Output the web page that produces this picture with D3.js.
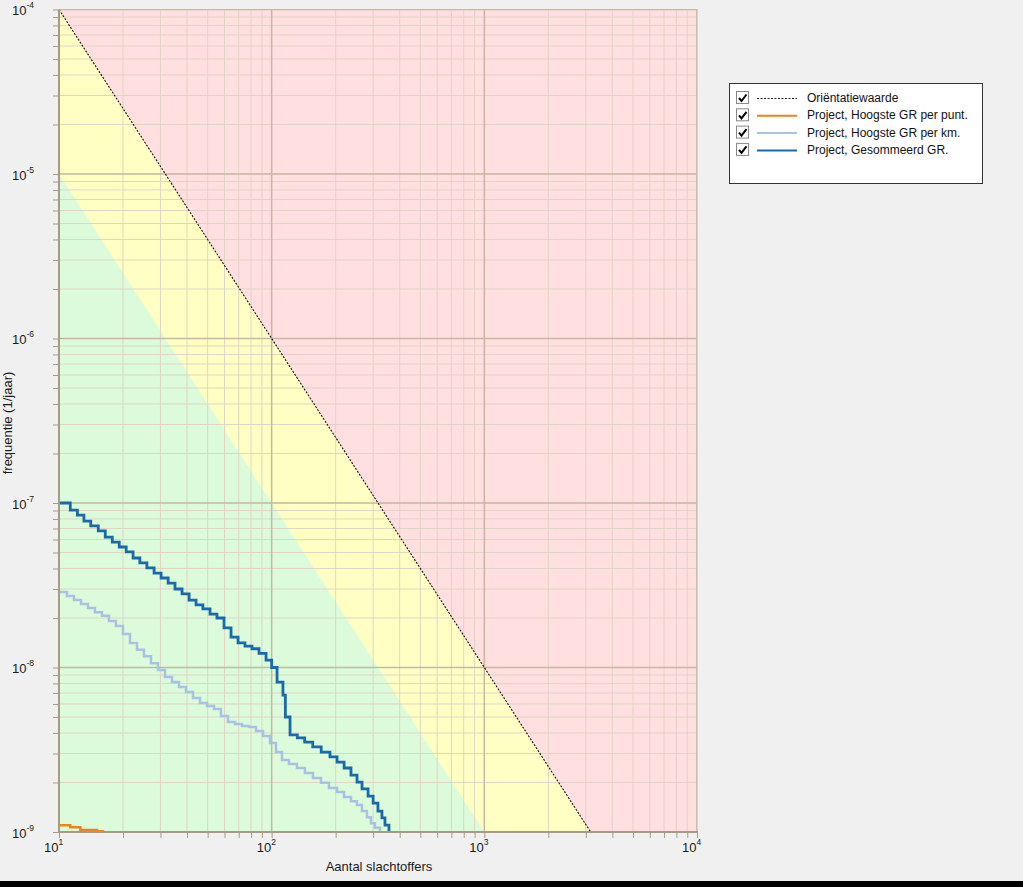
<!DOCTYPE html>
<html>
<head>
<meta charset="utf-8">
<script src="https://cdn.jsdelivr.net/npm/d3@7"></script>
<style>
html,body{margin:0;padding:0;background:#f0f0f0;}
svg{display:block;font-family:"Liberation Sans",Arial,sans-serif;}
</style>
</head>
<body>
<svg id="chart" width="1023" height="887"></svg>
<script>
// ---- data ----
const xDecades = [10, 100, 1000, 10000];
const xExponents = ["1", "2", "3", "4"];
const yDecades = [1e-4, 1e-5, 1e-6, 1e-7, 1e-8, 1e-9];
const yExponents = ["-4", "-5", "-6", "-7", "-8", "-9"];

// Orientatiewaarde (F = 0.01 / N^2)
const orientN = [10, 3162.3];
const orientF = [1e-4, 1e-9];
// lower limit of yellow band (F = 0.001 / N^2)
const lowerN = [10, 1000];
const lowerF = [1e-5, 1e-9];

// Project, Gesommeerd GR.
const sumN = [10, 11.3, 12.2, 13.1, 14.1, 15.3, 16.5, 17.8, 19.2, 20.7, 22.3, 24.0, 25.9, 28.0, 30.2, 32.6, 35.1, 37.9, 40.9, 44.1, 47.5, 51.3, 55.3, 59.7, 64.4, 69.5, 74.9, 80.8, 87.2, 94.1, 100, 106, 113, 116, 122, 132, 143, 156, 171, 188, 203, 219, 236, 252, 266, 284, 300, 316, 330, 341, 356];
const sumF = [1.0e-7, 9.06e-8, 8.45e-8, 7.77e-8, 7.25e-8, 6.76e-8, 6.21e-8, 5.79e-8, 5.40e-8, 5.04e-8, 4.63e-8, 4.32e-8, 4.03e-8, 3.75e-8, 3.50e-8, 3.26e-8, 3.00e-8, 2.80e-8, 2.57e-8, 2.40e-8, 2.27e-8, 2.11e-8, 2.00e-8, 1.74e-8, 1.53e-8, 1.41e-8, 1.35e-8, 1.30e-8, 1.22e-8, 1.11e-8, 1.0e-8, 8.16e-9, 6.80e-9, 5.00e-9, 3.89e-9, 3.73e-9, 3.52e-9, 3.29e-9, 3.06e-9, 2.86e-9, 2.66e-9, 2.45e-9, 2.22e-9, 2.01e-9, 1.83e-9, 1.65e-9, 1.50e-9, 1.34e-9, 1.22e-9, 1.10e-9, 1.0e-9];

// Project, Hoogste GR per km.
const kmN = [10, 10.9, 11.76, 12.69, 13.69, 14.76, 15.93, 17.18, 18.53, 20.0, 21.57, 23.27, 25.1, 27.07, 29.21, 31.51, 33.99, 36.66, 39.55, 42.66, 46.02, 49.64, 53.56, 57.77, 62.32, 67.24, 72.53, 78.24, 84.41, 91.06, 98.2, 104.8, 111.8, 120.6, 131.5, 143.4, 156.4, 170.6, 186.0, 202.8, 218.8, 236.0, 251.8, 265.8, 280.6, 293.1, 306.0, 323.0];
const kmF = [2.88e-8, 2.72e-8, 2.57e-8, 2.43e-8, 2.30e-8, 2.17e-8, 2.06e-8, 1.92e-8, 1.79e-8, 1.60e-8, 1.41e-8, 1.28e-8, 1.17e-8, 1.06e-8, 9.66e-9, 8.75e-9, 8.16e-9, 7.61e-9, 7.10e-9, 6.53e-9, 6.08e-9, 5.83e-9, 5.59e-9, 5.07e-9, 4.66e-9, 4.53e-9, 4.41e-9, 4.35e-9, 4.11e-9, 3.83e-9, 3.48e-9, 3.06e-9, 2.74e-9, 2.59e-9, 2.45e-9, 2.28e-9, 2.13e-9, 1.99e-9, 1.85e-9, 1.75e-9, 1.63e-9, 1.54e-9, 1.46e-9, 1.34e-9, 1.23e-9, 1.13e-9, 1.06e-9, 1.0e-9];

// Project, Hoogste GR per punt.
const puntN = [10, 11.3, 12.6, 15.1, 16.1];
const puntF = [1.1e-9, 1.07e-9, 1.03e-9, 1.01e-9, 1.0e-9];

const legendLabels = ["Oriëntatiewaarde", "Project, Hoogste GR per punt.", "Project, Hoogste GR per km.", "Project, Gesommeerd GR."];

// ---- drawing ----
const svg = d3.select("#chart");
const x = d3.scaleLog().domain([10, 10000]).range([59, 697]);
const y = d3.scaleLog().domain([1e-9, 1e-4]).range([832, 9.5]);

const C = {
  red: "#ffdfe0", yellow: "#ffffc4", green: "#dbfbdb",
  major: "#c6b6a2", minor: "#e0d5c4", axis: "#a89a86",
  dark: "#1a69a8", light: "#a9c1e3", orange: "#f0821e"
};

const plot = svg.append("g");
plot.append("defs").append("clipPath").attr("id", "clip")
  .append("rect").attr("x", x(10)).attr("y", y(1e-4))
  .attr("width", x(10000) - x(10)).attr("height", y(1e-9) - y(1e-4));

const area = plot.append("g").attr("clip-path", "url(#clip)");
area.append("rect").attr("x", x(10)).attr("y", y(1e-4))
  .attr("width", x(10000) - x(10)).attr("height", y(1e-9) - y(1e-4)).attr("fill", C.red);
const poly = (ns, fs) => {
  const pts = ns.map((n, i) => [x(n), y(fs[i])]);
  pts.push([x(ns[0]), y(1e-9)]);
  return pts.map(p => p.join(",")).join(" ");
};
area.append("polygon").attr("points", poly(orientN, orientF)).attr("fill", C.yellow);
area.append("polygon").attr("points", poly(lowerN, lowerF)).attr("fill", C.green);

// grid
const minorX = [], minorY = [];
xDecades.slice(0, -1).forEach(d => { for (let k = 2; k <= 9; k++) minorX.push(d * k); });
yDecades.slice(1).forEach(d => { for (let k = 2; k <= 9; k++) minorY.push(d * k); });

area.selectAll(".gxm").data(minorX).enter().append("line")
  .attr("x1", d => x(d)).attr("x2", d => x(d)).attr("y1", y(1e-4)).attr("y2", y(1e-9))
  .attr("stroke", C.minor).attr("stroke-width", 1);
area.selectAll(".gym").data(minorY).enter().append("line")
  .attr("y1", d => y(d)).attr("y2", d => y(d)).attr("x1", x(10)).attr("x2", x(10000))
  .attr("stroke", C.minor).attr("stroke-width", 1);
area.selectAll(".gxM").data(xDecades).enter().append("line")
  .attr("x1", d => x(d)).attr("x2", d => x(d)).attr("y1", y(1e-4)).attr("y2", y(1e-9))
  .attr("stroke", C.major).attr("stroke-width", 1.5);
area.selectAll(".gyM").data(yDecades).enter().append("line")
  .attr("y1", d => y(d)).attr("y2", d => y(d)).attr("x1", x(10)).attr("x2", x(10000))
  .attr("stroke", C.major).attr("stroke-width", 1.5);

// orientation line
area.append("line")
  .attr("x1", x(orientN[0])).attr("y1", y(orientF[0]))
  .attr("x2", x(orientN[1])).attr("y2", y(orientF[1]))
  .attr("stroke", "#111").attr("stroke-width", 1.1).attr("stroke-dasharray", "2,1.5");

// series
const stepLine = d3.line().curve(d3.curveStepAfter);
const series = [
  {n: puntN, f: puntF, c: C.orange, w: 2.5},
  {n: kmN, f: kmF, c: C.light, w: 2.5},
  {n: sumN, f: sumF, c: C.dark, w: 2.8}
];
series.forEach(s => {
  area.append("path")
    .attr("d", stepLine(s.n.map((n, i) => [x(n), y(s.f[i])])))
    .attr("fill", "none").attr("stroke", s.c).attr("stroke-width", s.w)
    .attr("stroke-linejoin", "miter");
});

// frame
plot.append("rect").attr("x", x(10)).attr("y", y(1e-4))
  .attr("width", x(10000) - x(10)).attr("height", y(1e-9) - y(1e-4))
  .attr("fill", "none").attr("stroke", C.major).attr("stroke-width", 1);
plot.append("line").attr("x1", x(10)).attr("x2", x(10)).attr("y1", y(1e-4)).attr("y2", y(1e-9) + 1)
  .attr("stroke", C.axis).attr("stroke-width", 2);
plot.append("line").attr("x1", x(10)).attr("x2", x(10000) + 1).attr("y1", y(1e-9)).attr("y2", y(1e-9))
  .attr("stroke", C.axis).attr("stroke-width", 2);

// axes ticks via d3 axes
const yAxis = d3.axisLeft(y).tickValues(minorY.concat(yDecades)).tickSize(6).tickFormat("");
const gy = svg.append("g").attr("transform", `translate(${x(10)},0)`).call(yAxis);
gy.select(".domain").remove();
gy.selectAll(".tick line").attr("stroke", C.axis);

const xAxis = d3.axisBottom(x).tickValues(minorX.concat(xDecades)).tickSize(6).tickFormat("");
const gx = svg.append("g").attr("transform", `translate(0,${y(1e-9)})`).call(xAxis);
gx.select(".domain").remove();
gx.selectAll(".tick line").attr("stroke", C.axis);

// y tick labels
yDecades.forEach((d, i) => {
  const t = svg.append("text").attr("x", 12).attr("y", y(d) + 5.5)
    .attr("font-size", 13).attr("fill", "#1a1a1a");
  t.append("tspan").text("10");
  t.append("tspan").attr("dy", -7).attr("font-size", 8.5).text(yExponents[i]);
});
// x tick labels
xDecades.forEach((d, i) => {
  const t = svg.append("text").attr("x", x(d) - 15).attr("y", y(1e-9) + 20)
    .attr("font-size", 13).attr("fill", "#1a1a1a");
  t.append("tspan").text("10");
  t.append("tspan").attr("dy", -7).attr("font-size", 8.5).text(xExponents[i]);
});

// axis titles
svg.append("text").attr("x", 379).attr("y", 871).attr("text-anchor", "middle")
  .attr("font-size", 13).attr("fill", "#1a1a1a").text("Aantal slachtoffers");
svg.append("text").attr("transform", "translate(12,423) rotate(-90)").attr("text-anchor", "middle")
  .attr("font-size", 13).attr("fill", "#1a1a1a").text("frequentie (1/jaar)");

// legend
const lg = svg.append("g");
lg.append("rect").attr("x", 729.5).attr("y", 83.5).attr("width", 253).attr("height", 100)
  .attr("fill", "#fff").attr("stroke", "#333").attr("stroke-width", 1);
const legendStyles = [
  {c: "#222", w: 1, dash: "2,1.5"},
  {c: C.orange, w: 2, dash: null},
  {c: C.light, w: 2, dash: null},
  {c: C.dark, w: 2, dash: null}
];
legendLabels.forEach((lab, i) => {
  const cy = 98 + i * 17.3;
  const g = lg.append("g");
  g.append("rect").attr("x", 736.5).attr("y", cy - 6.5).attr("width", 12).attr("height", 12)
    .attr("fill", "#fff").attr("stroke", "#888").attr("stroke-width", 1);
  g.append("path").attr("d", `M739,${cy} L741.5,${cy + 3} L746.5,${cy - 3.5}`)
    .attr("fill", "none").attr("stroke", "#000").attr("stroke-width", 2);
  g.append("line").attr("x1", 757).attr("x2", 797).attr("y1", cy + 0.5).attr("y2", cy + 0.5)
    .attr("stroke", legendStyles[i].c).attr("stroke-width", legendStyles[i].w)
    .attr("stroke-dasharray", legendStyles[i].dash);
  g.append("text").attr("x", 807).attr("y", cy + 4).attr("font-size", 12).attr("fill", "#111").text(lab);
});

// bottom black band
svg.append("rect").attr("x", 0).attr("y", 881).attr("width", 1023).attr("height", 6).attr("fill", "#000");
</script>
</body>
</html>
